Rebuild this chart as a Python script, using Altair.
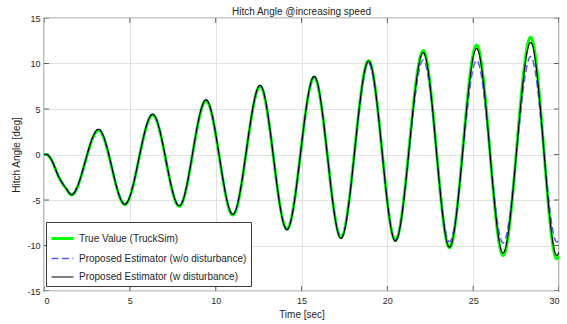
import altair as alt
import pandas as pd

# ---- data ----
time_s = [0, 0.15, 0.33, 0.92, 1.31, 1.6, 3.18, 4.71, 6.33, 7.88, 9.44, 11.0,
          12.59, 14.15, 15.74, 17.3, 18.91, 20.47, 22.09, 23.62, 25.2, 26.74,
          28.35, 29.87, 30.0]
true_value = [0, 0, -0.28, -2.68, -3.8, -4.45, 2.65, -5.5, 4.35, -5.7, 5.9, -6.65,
              7.5, -8.2, 8.5, -9.1, 10.3, -9.45, 11.39, -10.25, 12.02, -11.09,
              12.88, -11.46, -11.1]
est_wo_dist = [0, 0, -0.28, -2.68, -3.79, -4.42, 2.77, -5.46, 4.43, -5.64, 6.02, -6.57,
               7.61, -8.27, 8.55, -9.2, 10.0, -9.4, 10.39, -9.6, 10.36, -9.72,
               10.77, -9.61, -9.25]
est_w_dist = [0, 0, -0.28, -2.68, -3.79, -4.42, 2.77, -5.46, 4.43, -5.64, 6.02, -6.57,
              7.61, -8.27, 8.61, -9.23, 10.28, -9.53, 11.2, -10.2, 11.65, -10.83,
              12.32, -11.09, -10.75]

series_names = ["True Value (TruckSim)",
                "Proposed Estimator (w/o disturbance)",
                "Proposed Estimator (w disturbance)"]
series_colors = ["#00ff00", "#5a5aff", "#000000"]
series_widths = [3, 1.5, 1.1]
series_dash = [[1, 0], [7, 3.5], [1, 0]]

x_ticks = [0, 5, 10, 15, 20, 25, 30]
y_ticks = [-15, -10, -5, 0, 5, 10, 15]

rows = []
for name, vals in zip(series_names, [true_value, est_wo_dist, est_w_dist]):
    for t, v in zip(time_s, vals):
        rows.append({"series": name, "t": t, "v": v})
df = pd.DataFrame(rows)

FONT = "Liberation Sans"
TXT = "#262626"

xs = alt.Scale(domain=[0, 30], nice=False, zero=False)
ys = alt.Scale(domain=[-15, 15], nice=False, zero=False)

legend = alt.Legend(
    title=None, orient="none", legendX=2, legendY=204,
    fillColor="white", strokeColor="#3a3a3a", padding=4,
    labelFont=FONT, labelFontSize=10, labelColor=TXT, labelOffset=4,
    symbolType="stroke", symbolSize=484, rowPadding=1.5, labelLimit=400,
)

x_enc = alt.X("t:Q", scale=xs, axis=alt.Axis(
    values=x_ticks, title="Time [sec]", grid=True, gridColor="#e2e2e2",
    ticks=False, domain=False, labelFont=FONT, labelFontSize=9, labelColor=TXT,
    labelPadding=5, titleFont=FONT, titleFontSize=10, titleFontWeight="normal",
    titleColor=TXT, titlePadding=4, labelExpr="'' + datum.value"))
y_enc = alt.Y("v:Q", scale=ys, axis=alt.Axis(
    values=y_ticks, title="Hitch Angle [deg]", grid=True, gridColor="#e2e2e2",
    ticks=False, domain=False, labelFont=FONT, labelFontSize=9, labelColor=TXT,
    labelPadding=4, titleFont=FONT, titleFontSize=10, titleFontWeight="normal",
    titleColor=TXT, titlePadding=5, labelExpr="'' + datum.value"))

color = alt.Color("series:N", scale=alt.Scale(domain=series_names, range=series_colors), legend=legend)
dash = alt.StrokeDash("series:N", scale=alt.Scale(domain=series_names, range=series_dash), legend=legend)
width = alt.StrokeWidth("series:N", scale=alt.Scale(domain=series_names, range=series_widths, type="ordinal"), legend=legend)

layers = []
for name in series_names:
    layers.append(
        alt.Chart(df).transform_filter(alt.datum.series == name)
        .mark_line(interpolate="monotone", clip=True)
        .encode(x=x_enc, y=y_enc, color=color, strokeDash=dash, strokeWidth=width)
    )

tick_df = pd.DataFrame({"xt": x_ticks, "yt": y_ticks})
tick_color = "#262626"
tk_top = alt.Chart(tick_df).mark_tick(clip=True, size=10, thickness=1, color=tick_color, orient="vertical").encode(
    x=alt.X("xt:Q", scale=xs), y=alt.datum(15))
tk_bot = alt.Chart(tick_df).mark_tick(clip=True, size=10, thickness=1, color=tick_color, orient="vertical").encode(
    x=alt.X("xt:Q", scale=xs), y=alt.datum(-15))
tk_left = alt.Chart(tick_df).mark_tick(clip=True, size=10, thickness=1, color=tick_color, orient="horizontal").encode(
    y=alt.Y("yt:Q", scale=ys), x=alt.datum(0))
tk_right = alt.Chart(tick_df).mark_tick(clip=True, size=10, thickness=1, color=tick_color, orient="horizontal").encode(
    y=alt.Y("yt:Q", scale=ys), x=alt.datum(30))

chart = alt.layer(*layers, tk_top, tk_bot, tk_left, tk_right).properties(
    width=515, height=273,
    title=alt.TitleParams("Hitch Angle @increasing speed", font=FONT, fontSize=10,
                          fontWeight="normal", color=TXT, offset=-3, anchor="middle",
                          frame="group"),
    autosize=alt.AutoSizeParams(type="none"),
    padding={"left": 44, "top": 18, "right": 8, "bottom": 33},
    background="white",
).configure_view(stroke="#262626", strokeWidth=1.2)

chart.save("out.html", embed_options={"renderer": "svg", "actions": False})
